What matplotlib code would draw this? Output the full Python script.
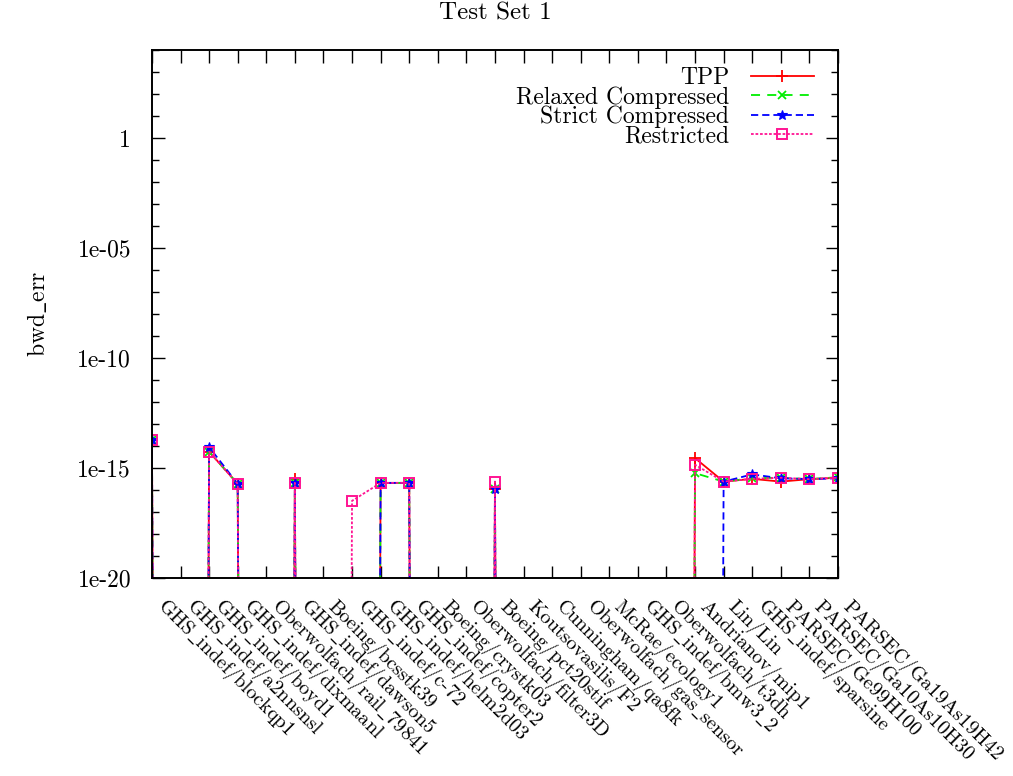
import numpy as np
import matplotlib
matplotlib.use('Agg')
import matplotlib.pyplot as plt
from matplotlib.ticker import FixedLocator, FixedFormatter, NullFormatter

plt.rcParams['font.family'] = ['cmr10', 'DejaVu Serif']
plt.rcParams['mathtext.fontset'] = 'cm'
plt.rcParams['axes.formatter.use_mathtext'] = True

# values below the plotted range (no result) are stored as T
T = 1e-300

matrices = ['GHS_indef/blockqp1', 'GHS_indef/a2nnsnsl', 'GHS_indef/boyd1',
            'GHS_indef/dixmaanl', 'Oberwolfach/rail_79841', 'GHS_indef/dawson5',
            'Boeing/bcsstk39', 'GHS_indef/c-72', 'GHS_indef/helm2d03',
            'GHS_indef/copter2', 'Boeing/crystk03', 'Oberwolfach/filter3D',
            'Boeing/pct20stif', 'Koutsovasilis/F2', 'Cunningham/qa8fk',
            'Oberwolfach/gas_sensor', 'McRae/ecology1', 'GHS_indef/bmw3_2',
            'Oberwolfach/t3dh', 'Andrianov/mip1', 'Lin/Lin', 'GHS_indef/sparsine',
            'PARSEC/Ge99H100', 'PARSEC/Ga10As10H30', 'PARSEC/Ga19As19H42']

tpp = [1.9e-14, T, 5.5e-15, 1.9e-16, T, 3.2e-16, T, T, 2.1e-16, 2.1e-16,
       T, T, 1.1e-16, T, T, T, T, T, T, 2.8e-15,
       2.4e-16, 3.2e-16, 2.4e-16, 3.1e-16, 3.6e-16]
relaxed = [1.9e-14, T, 5.5e-15, 1.9e-16, T, 2.1e-16, T, T, 2.1e-16, 2.1e-16,
           T, T, 1.1e-16, T, T, T, T, T, T, 5.8e-16,
           2.4e-16, 3.4e-16, 3.6e-16, 3.1e-16, 3.8e-16]
strict = [1.9e-14, T, 8.9e-15, 1.9e-16, T, 2.1e-16, T, T, 2.1e-16, 2.1e-16,
          T, T, 1.1e-16, T, T, T, T, T, T, T,
          2.4e-16, 5.1e-16, 3.4e-16, 3.1e-16, 3.4e-16]
restricted = [1.9e-14, T, 5.5e-15, 1.9e-16, T, 2.1e-16, T, 3.2e-17, 2.1e-16, 2.1e-16,
              T, T, 2.4e-16, T, T, T, T, T, T, 1.4e-15,
              2.4e-16, 3.2e-16, 3.6e-16, 3.1e-16, 3.6e-16]


def tex(s):
    # underscore as in the LaTeX output
    return s.replace('_', r'$\_$')


x = np.arange(len(matrices))

fig = plt.figure(figsize=(10.13, 7.76), dpi=100)
ax = fig.add_axes([0.150, 0.2552, 0.6772, 0.6804])

ax.plot(x, tpp, color='#ff0000', linestyle='-', linewidth=1.3,
        marker='+', markersize=9, markeredgewidth=1.3, label='TPP')
ax.plot(x, relaxed, color='#00ee00', linestyle=(0, (5, 4)), linewidth=1.3,
        marker='x', markersize=6, markeredgewidth=1.3, label='Relaxed Compressed')
ax.plot(x, strict, color='#0000ff', linestyle=(0, (4, 2.2)), linewidth=1.3,
        marker='*', markersize=7.5, markeredgewidth=0.8, label='Strict Compressed')
ax.plot(x, restricted, color='#ff1493', linestyle=(0, (1.5, 1)), linewidth=1.3,
        marker='s', markersize=7, markerfacecolor='none', markeredgewidth=1.4,
        label='Restricted')

ax.set_yscale('log')
ax.set_xlim(0, len(matrices) - 1)
ax.set_ylim(1e-20, 1e4)

major = [1e-20, 1e-15, 1e-10, 1e-5, 1e0]
ax.yaxis.set_major_locator(FixedLocator(major))
ax.yaxis.set_major_formatter(FixedFormatter(['1e-20', '1e-15', '1e-10', '1e-05', '1']))
minor = [10.0 ** k for k in range(-20, 5) if k % 5 != 0 or k > 0]
ax.yaxis.set_minor_locator(FixedLocator(minor))
ax.yaxis.set_minor_formatter(NullFormatter())

ax.set_xticks(x)
ax.set_xticklabels([tex(m) for m in matrices], rotation=-45, ha='left', va='bottom',
                   rotation_mode='anchor', fontsize=14.5)

ax.tick_params(which='both', direction='in', top=True, right=True)
ax.tick_params(which='major', length=9, width=1.0)
ax.tick_params(which='minor', length=5, width=1.0)
ax.tick_params(axis='x', pad=24)
ax.tick_params(axis='y', labelsize=17, pad=15)
for s in ax.spines.values():
    s.set_linewidth(1.4)

ax.set_ylabel(tex('bwd_err'), fontsize=17, labelpad=20)
ax.set_title('Test Set 1', fontsize=18, pad=22)

ax.legend(loc='upper right', bbox_to_anchor=(1.0, 1.013), frameon=False,
          markerfirst=False, fontsize=17, handlelength=2.7, handletextpad=0.9,
          labelspacing=-0.12, borderaxespad=0.6)

fig.savefig('out.png', dpi=100)
